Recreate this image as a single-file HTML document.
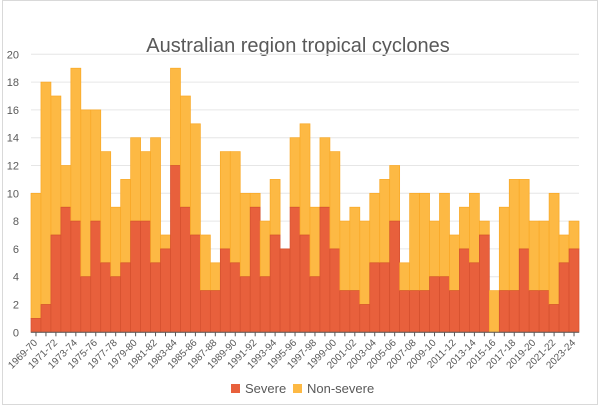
<!DOCTYPE html>
<html><head><meta charset="utf-8"><style>
body{margin:0;background:#fff;}
svg{display:block;font-family:"Liberation Sans",sans-serif;}
</style></head><body>
<svg id="c" width="600" height="418" viewBox="0 0 600 418" xmlns="http://www.w3.org/2000/svg">
<rect x="2.5" y="0.5" width="595" height="404" fill="#fff" stroke="#d9d9d9"/>
<text x="298" y="52" text-anchor="middle" font-size="20" fill="#595959">Australian region tropical cyclones</text>
<g id="g"></g>
<rect x="231" y="384" width="9" height="9" fill="#E8603C"/>
<text x="245" y="393" font-size="13" fill="#595959">Severe</text>
<rect x="293" y="384" width="9" height="9" fill="#FDB944"/>
<text x="307" y="393" font-size="13" fill="#595959">Non-severe</text>
</svg>
<script>
var tot=[10,18,17,12,19,16,16,13,9,11,14,13,14,7,19,17,15,7,5,13,13,10,10,8,11,6,14,15,9,14,13,8,9,8,10,11,12,5,10,10,8,10,7,9,10,8,3,9,11,11,8,8,10,7,8];
var sev=[1,2,7,9,8,4,8,5,4,5,8,8,5,6,12,9,7,3,3,6,5,4,9,4,7,6,9,7,4,9,6,3,3,2,5,5,8,3,3,3,4,4,3,6,5,7,0,3,3,6,3,3,2,5,6];
var x0=31,x1=579,y0=332.3,s=13.9,w=(x1-x0)/55,h='';
for(var v=0;v<=20;v+=2){var y=y0-v*s;
 if(v>0)h+='<line x1="'+x0+'" x2="'+x1+'" y1="'+y+'" y2="'+y+'" stroke="#e6e6e6"/>';
 h+='<text x="19" y="'+(y+4)+'" text-anchor="end" font-size="11" fill="#595959">'+v+'</text>';}
for(var i=0;i<55;i++){var x=x0+i*w;
 var ys=y0-sev[i]*s,yt=y0-tot[i]*s;
 h+='<rect x="'+x+'" y="'+yt+'" width="'+w+'" height="'+(ys-yt)+'" fill="#FDB944" stroke="#F9A825" stroke-width="0.7"/>';
 if(sev[i]>0)h+='<rect x="'+x+'" y="'+ys+'" width="'+w+'" height="'+(y0-ys)+'" fill="#E8603C" stroke="#D4502E" stroke-width="0.7"/>';
 var cx=x+w/2;
 h+='<line x1="'+cx+'" x2="'+cx+'" y1="'+y0+'" y2="'+(y0+4)+'" stroke="#595959"/>';
 if(i%2==0){var yr=1969+i,lab=yr+'-'+String((yr+1)%100).padStart(2,'0');
  h+='<text transform="translate('+(cx+2)+','+(y0+11)+') rotate(-45)" text-anchor="end" font-size="10" fill="#595959">'+lab+'</text>';}}
h+='<line x1="'+x0+'" x2="'+x1+'" y1="'+y0+'" y2="'+y0+'" stroke="#595959"/>';
document.getElementById('g').innerHTML=h;
</script>
</body></html>
